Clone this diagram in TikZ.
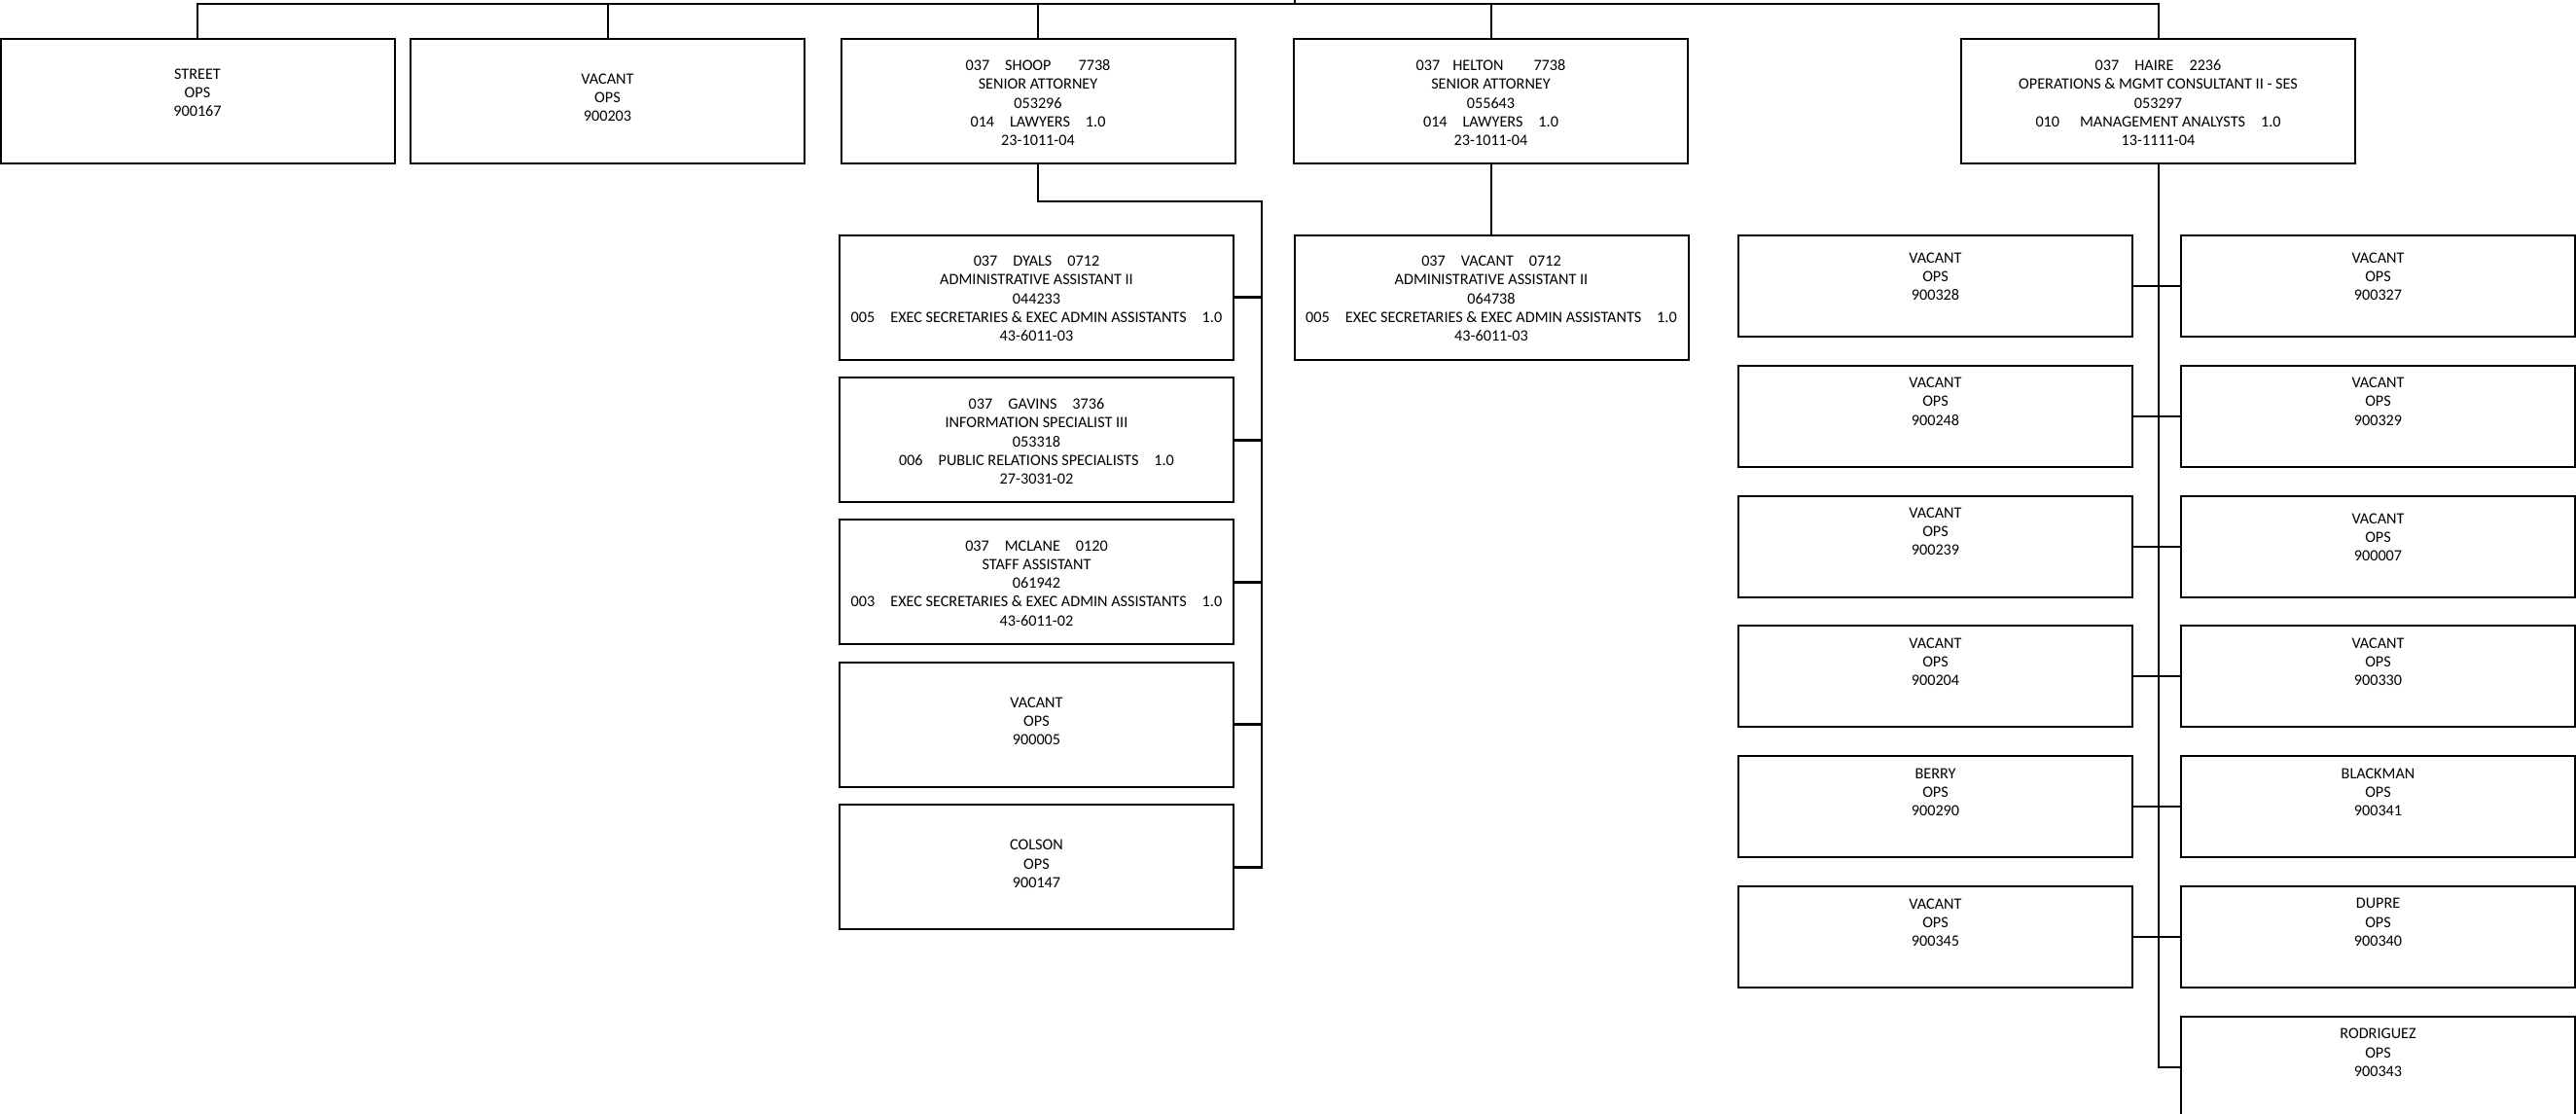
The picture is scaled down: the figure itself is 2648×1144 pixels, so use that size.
\documentclass[tikz,border=0pt]{standalone}
\usepackage{fontspec}
\setmainfont{Carlito}
\newcommand\colgap{\hspace{16pt}}
% name, centre x, top y, height, first-line offset, text
\newcommand\orgbox[6]{%
  \node[box, minimum height=#4pt] (#1) at (#2, {#3+#4/2}) {};
  \node[txt] (#1-t) at (#2, {#3+#5-5.2}) {#6};}
\begin{document}
\begin{tikzpicture}[x=1pt,y=-1pt,
  box/.style={draw=black, line width=2pt, minimum width=405pt, inner sep=0pt, fill=white},
  txt/.style={align=center, inner sep=0pt, anchor=north, font=\fontsize{16.2}{19.2}\selectfont},
  link/.style={line width=2pt},
  heavy/.style={line width=2.6pt}]
\useasboundingbox (0,0) rectangle (2648,1144);
\clip (0,0) rectangle (2648,1144);

% ---- top row ----
\orgbox{street}{203}{40}{128}{36}{STREET\\OPS\\900167}
\orgbox{vacops}{624.5}{40}{128}{41}{VACANT\\OPS\\900203}
\orgbox{shoop}{1067}{40}{128}{26.7}{037\colgap SHOOP\hspace{28pt}7738\\SENIOR ATTORNEY\\053296\\014\colgap LAWYERS\colgap 1.0\\23-1011-04}
\orgbox{helton}{1532.5}{40}{128}{26.7}{037\hspace{13pt}HELTON\hspace{31pt}7738\\SENIOR ATTORNEY\\055643\\014\colgap LAWYERS\colgap 1.0\\23-1011-04}
\orgbox{haire}{2218.5}{40}{128}{26.7}{037\colgap HAIRE\colgap 2236\\OPERATIONS \& MGMT CONSULTANT II - SES\\053297\\010\hspace{21pt}MANAGEMENT ANALYSTS\colgap 1.0\\13-1111-04}

% ---- staff under SHOOP ----
\orgbox{dyals}{1065.5}{241.7}{128}{26.5}{037\colgap DYALS\colgap 0712\\ADMINISTRATIVE ASSISTANT II\\044233\\005\colgap EXEC SECRETARIES \& EXEC ADMIN ASSISTANTS\colgap 1.0\\43-6011-03}
\orgbox{gavins}{1065.5}{388.3}{128}{26.5}{037\colgap GAVINS\colgap 3736\\INFORMATION SPECIALIST III\\053318\\006\colgap PUBLIC RELATIONS SPECIALISTS\colgap 1.0\\27-3031-02}
\orgbox{mclane}{1065.5}{534.3}{128}{26.5}{037\colgap MCLANE\colgap 0120\\STAFF ASSISTANT\\061942\\003\colgap EXEC SECRETARIES \& EXEC ADMIN ASSISTANTS\colgap 1.0\\43-6011-02}
\orgbox{vacfive}{1065.5}{680.7}{128}{41}{VACANT\\OPS\\900005}
\orgbox{colson}{1065.5}{827.3}{128}{41}{COLSON\\OPS\\900147}

% ---- staff under HELTON ----
\orgbox{hvac}{1533}{241.7}{128}{26.5}{037\colgap VACANT\colgap 0712\\ADMINISTRATIVE ASSISTANT II\\064738\\005\colgap EXEC SECRETARIES \& EXEC ADMIN ASSISTANTS\colgap 1.0\\43-6011-03}

% ---- OPS grid under HAIRE ----
\orgbox{gla}{1989.5}{241.7}{104}{23.3}{VACANT\\OPS\\900328}
\orgbox{gra}{2444.5}{241.7}{104}{23.3}{VACANT\\OPS\\900327}
\orgbox{glb}{1989.5}{375.6}{104}{17.5}{VACANT\\OPS\\900248}
\orgbox{grb}{2444.5}{375.6}{104}{17.5}{VACANT\\OPS\\900329}
\orgbox{glc}{1989.5}{509.5}{104}{17}{VACANT\\OPS\\900239}
\orgbox{grc}{2444.5}{509.5}{104}{23.3}{VACANT\\OPS\\900007}
\orgbox{gld}{1989.5}{643.4}{104}{17.3}{VACANT\\OPS\\900204}
\orgbox{grd}{2444.5}{643.4}{104}{17.3}{VACANT\\OPS\\900330}
\orgbox{gle}{1989.5}{777.3}{104}{17.3}{BERRY\\OPS\\900290}
\orgbox{gre}{2444.5}{777.3}{104}{17.3}{BLACKMAN\\OPS\\900341}
\orgbox{glf}{1989.5}{911.2}{104}{17.3}{VACANT\\OPS\\900345}
\orgbox{grf}{2444.5}{911.2}{104}{17.3}{DUPRE\\OPS\\900340}
\orgbox{grg}{2444.5}{1045.1}{104}{17.3}{RODRIGUEZ\\OPS\\900343}

% ---- connectors ----
\coordinate (bus) at (1331,3.5);
\coordinate (parent) at (1331,0);
\draw[link] (street.north) |- (bus) -| (haire.north);
\draw[link] (bus) -- (parent);
\foreach \n in {vacops,shoop,helton}
  \draw[link] (\n.north) -- (\n.north |- bus);

\coordinate (shbus) at (1297,207);
\draw[heavy] (shoop.south) |- (shbus) |- (colson.east);
\foreach \n in {dyals,gavins,mclane,vacfive}
  \draw[heavy] (\n.east) -- (\n.east -| shbus);

\draw[link] (helton.south) -- (helton.south |- hvac.north);

\draw[link] (haire.south) |- (grg.west);
\foreach \r in {a,b,c,d,e,f}
  \draw[link] (gl\r.east) -- (gr\r.west);
\end{tikzpicture}
\end{document}
